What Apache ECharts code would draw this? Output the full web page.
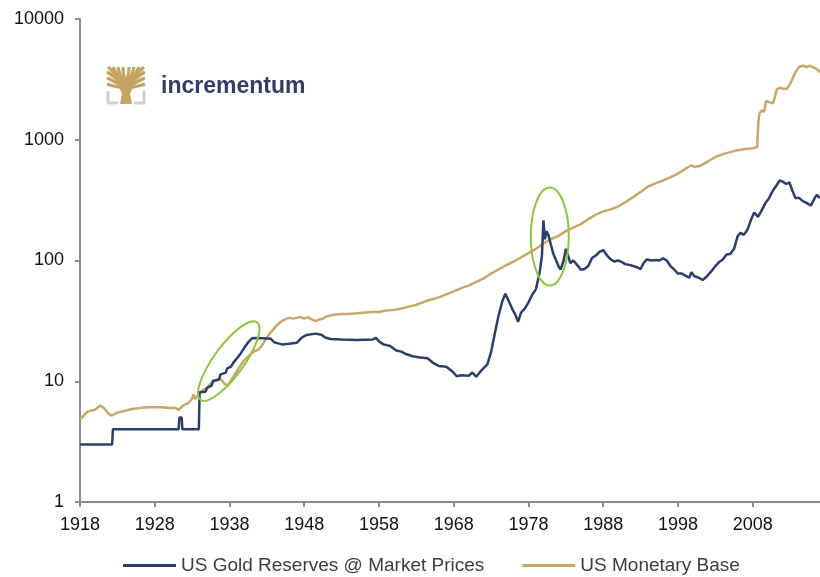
<!DOCTYPE html>
<html>
<head>
<meta charset="utf-8">
<title>US Gold Reserves vs Monetary Base</title>
<script src="https://cdn.jsdelivr.net/npm/echarts@6/dist/echarts.min.js"></script>
<style>
  html, body { margin: 0; padding: 0; background: #fff; }
  #chart { width: 820px; height: 577px; }
</style>
</head>
<body>
<div id="chart"></div>
<script>
// 年份刻度
const tickYears = [1918, 1928, 1938, 1948, 1958, 1968, 1978, 1988, 1998, 2008];

// US Gold Reserves @ Market Prices (bn USD)
const goldYears = [
  1918, 1922.3, 1922.4, 1931.2, 1931.3, 1931.6, 1931.7, 1933.9, 1934.0, 1934.8,
  1935.0, 1935.6, 1935.8, 1936.6, 1936.8, 1937.5, 1937.7, 1938.2, 1938.5, 1939.0,
  1939.5, 1940.0, 1940.5, 1941.0, 1941.5, 1942.5, 1943.5, 1944.0, 1945.0, 1946.0,
  1947.0, 1947.6, 1948.3, 1949.5, 1950.3, 1950.8, 1951.5, 1953.0, 1955.0, 1957.2,
  1957.6, 1958.0, 1958.6, 1959.5, 1960.3, 1961.0, 1961.5, 1962.5, 1963.5, 1964.5,
  1965.3, 1966.0, 1967.0, 1967.8, 1968.4, 1969.0, 1970.0, 1970.5, 1971.0, 1971.8,
  1972.5, 1973.0, 1973.5, 1974.0, 1974.5, 1974.9, 1975.3, 1975.8, 1976.3, 1976.6,
  1977.0, 1977.5, 1978.0, 1978.5, 1979.0, 1979.5, 1979.8, 1980.0, 1980.2, 1980.4,
  1980.7, 1981.0, 1981.3, 1981.7, 1982.0, 1982.3, 1982.7, 1983.0, 1983.3, 1983.6,
  1984.0, 1984.5, 1985.0, 1985.5, 1986.0, 1986.5, 1987.0, 1987.5, 1988.0, 1988.5,
  1989.0, 1989.5, 1990.0, 1990.5, 1991.0, 1991.5, 1992.0, 1992.5, 1993.0, 1993.4,
  1993.8, 1994.5, 1995.0, 1995.5, 1996.0, 1996.5, 1997.0, 1997.5, 1998.0, 1998.5,
  1999.0, 1999.5, 1999.8, 2000.2, 2000.8, 2001.3, 2001.8, 2002.5, 2003.0, 2003.5,
  2004.0, 2004.5, 2005.0, 2005.5, 2006.0, 2006.4, 2006.8, 2007.3, 2007.8, 2008.2,
  2008.7, 2009.2, 2009.7, 2010.2, 2010.7, 2011.2, 2011.6, 2012.0, 2012.5, 2012.9,
  2013.3, 2013.7, 2014.2, 2014.7, 2015.2, 2015.8, 2016.3, 2016.6, 2016.9, 2017
];
const goldValues = [
  3, 3, 4, 4, 5, 5, 4, 4, 8.1, 8.2,
  8.8, 9.2, 10.1, 10.3, 11.4, 11.8, 12.8, 13.2, 14.2, 15.5,
  17.0, 19.0, 21.0, 22.7, 22.8, 22.7, 22.5, 21.0, 20.2, 20.4,
  20.8, 22.8, 24.2, 24.8, 24.3, 23.0, 22.4, 22.2, 22.0, 22.2,
  22.9, 21.4, 20.2, 19.6, 18.0, 17.6, 16.9, 16.1, 15.7, 15.5,
  14.1, 13.4, 13.2, 12.1, 11.0, 11.2, 11.1, 11.8, 10.9, 12.5,
  13.8, 17.5, 25, 35, 46, 53, 47, 40, 35, 31,
  37, 40, 45, 52, 58, 80, 110, 215, 150, 175,
  160, 135, 115, 100, 90, 84, 100, 125, 110, 95,
  100, 92, 84, 85, 90, 105, 110, 118, 122, 110,
  102, 98, 100, 97, 93, 92, 90, 88, 85, 95,
  102, 100, 101, 100, 104, 100, 90, 84, 78, 78,
  75, 72, 80, 74, 72, 69, 73, 82, 90, 97,
  102, 112, 113, 125, 160, 170, 163, 180, 220, 250,
  230, 260, 300, 330, 380, 420, 460, 450, 430, 445,
  380, 330, 330, 310, 300, 285, 330, 350, 330, 340
];

// US Monetary Base (bn USD)
const baseYears = [
  1918, 1918.5, 1919, 1920, 1920.7, 1921.2, 1921.8, 1922.2, 1923, 1924,
  1925, 1926, 1927, 1928, 1929, 1930, 1930.8, 1931.2, 1931.8, 1932.5,
  1933.0, 1933.2, 1933.4, 1934.0, 1934.5, 1935.0, 1935.5, 1936.0, 1936.5, 1937.0,
  1937.4, 1937.8, 1938.3, 1938.8, 1939.3, 1939.8, 1940.3, 1940.8, 1941.4, 1941.8,
  1942.3, 1942.8, 1943.3, 1943.8, 1944.3, 1945, 1945.6, 1946, 1946.5, 1947,
  1947.5, 1948, 1948.5, 1949, 1949.5, 1950, 1950.5, 1951, 1952, 1953,
  1954, 1955, 1956, 1957, 1958, 1959, 1960, 1961, 1962, 1963,
  1964, 1965, 1966, 1967, 1968, 1969, 1970, 1971, 1972, 1973,
  1974, 1975, 1976, 1977, 1978, 1979, 1980, 1981, 1982, 1983,
  1984, 1985, 1986, 1987, 1988, 1989, 1990, 1991, 1992, 1993,
  1994, 1995, 1996, 1997, 1998, 1999, 1999.8, 2000.2, 2001, 2002,
  2003, 2004, 2005, 2006, 2007, 2008.0, 2008.6, 2008.75, 2008.9, 2009.2,
  2009.5, 2009.8, 2010.2, 2010.7, 2011.0, 2011.2, 2011.6, 2012.0, 2012.6, 2013.0,
  2013.4, 2013.8, 2014.2, 2014.7, 2015.2, 2015.6, 2016.0, 2016.4, 2016.7, 2017
];
const baseValues = [
  4.8, 5.2, 5.6, 5.8, 6.3, 6.0, 5.4, 5.2, 5.5, 5.7,
  5.9, 6.0, 6.1, 6.1, 6.1, 6.0, 6.0, 5.8, 6.3, 6.6,
  7.2, 7.8, 7.1, 8.0, 8.5, 8.8, 9.6, 10.0, 10.5, 10.2,
  9.4, 9.3, 10.4, 11.6, 13.0, 14.5, 15.6, 16.7, 17.8, 18.2,
  19.5, 22, 24.5, 26.6, 29, 31.5, 33, 33.5, 33, 33.5,
  34, 33, 34, 32.5, 31.5, 32.5, 33, 34.5, 35.5, 36,
  36, 36.5, 37, 37.5, 37.5, 38.5, 39, 40, 41.5, 43,
  45.5, 47.5, 49.5, 52.5, 55.5, 59, 62, 66.5, 71, 78,
  84.5, 91, 98, 106, 115, 125, 138, 150, 160, 175,
  187, 200, 220, 240, 255, 265, 280, 305, 335, 370,
  410, 435, 460, 490, 525, 575, 615, 595, 610, 660,
  720, 760, 790, 820, 840, 850, 870, 1400, 1650, 1750,
  1700, 2100, 2050, 2000, 2300, 2600, 2700, 2650, 2650, 2900,
  3300, 3700, 4000, 4100, 4000, 4100, 4000, 3900, 3800, 3600
];

// 标注椭圆 (年份, 数值)
const markYears = [1937.9, 1980.85];
const markValues = [14.7, 158];

const navy = "#2c3e6b";
const tan = "#c6a96a";
const green = "#8dc63f";
const logoGold = "#c4a464";
const fontFamily = "'Liberation Sans', Arial, sans-serif";

let myChart = echarts.init(document.getElementById("chart"));

function pairs(xs, ys) {
  return xs.map((x, i) => [x, ys[i]]);
}

// 公司 logo (树形图标 + 文字)
function logoElements() {
  // 左半边的树枝: 起点, 控制点, 终点; 右半边镜像
  let branches = [
    [[124, 88], [112, 86], [107, 84]],
    [[124, 87], [112, 80], [107, 78]],
    [[124, 86], [113, 75], [107, 72]],
    [[124, 85], [112, 70], [108, 67]],
    [[124, 84], [115, 72], [113, 67]],
    [[125, 84], [119, 74], [118, 67]],
    [[126, 84], [123, 74], [123, 67]],
  ];
  let els = [];
  branches.forEach((b) => {
    [1, -1].forEach((dir) => {
      let p = b.map((pt) => [dir === 1 ? pt[0] : 252 - pt[0], pt[1]]);
      els.push({
        type: "bezierCurve",
        shape: {
          x1: p[0][0], y1: p[0][1],
          cpx1: p[1][0], cpy1: p[1][1],
          x2: p[2][0], y2: p[2][1],
        },
        style: { stroke: logoGold, lineWidth: 3.2, fill: null },
      });
    });
  });
  // 树干
  els.push({
    type: "polygon",
    shape: {
      points: [[120, 104], [132, 104], [130, 94], [133, 87], [126, 82], [119, 87], [122, 94]],
    },
    style: { fill: logoGold },
  });
  // 底部灰色括号
  els.push({
    type: "polyline",
    shape: { points: [[108, 91], [108, 103], [118, 103]] },
    style: { stroke: "#cfcfcf", lineWidth: 3, fill: null },
  });
  els.push({
    type: "polyline",
    shape: { points: [[144, 91], [144, 103], [134, 103]] },
    style: { stroke: "#cfcfcf", lineWidth: 3, fill: null },
  });
  els.push({
    type: "text",
    x: 161,
    y: 87,
    style: {
      text: "incrementum",
      fill: "#2f3d68",
      fontSize: 23,
      fontWeight: "bold",
      fontFamily: fontFamily,
      verticalAlign: "middle",
    },
  });
  return els;
}

let option = {
  animation: false,
  backgroundColor: "#fff",
  grid: {
    left: 80,
    right: 0,
    top: 19,
    bottom: 75,
    containLabel: false,
  },
  legend: {
    left: 123,
    top: 556,
    padding: 0,
    icon: "rect",
    itemWidth: 53,
    itemHeight: 3,
    itemGap: 38,
    textStyle: {
      fontSize: 19,
      color: "#3d3d3d",
      fontFamily: fontFamily,
    },
    data: ["US Gold Reserves @ Market Prices", "US Monetary Base"],
  },
  xAxis: {
    type: "value",
    min: 1918,
    max: 2017,
    axisLine: {
      show: true,
      lineStyle: { color: "#8c8c8c", width: 2 },
    },
    axisTick: {
      show: true,
      length: 5,
      customValues: tickYears,
      lineStyle: { color: "#8c8c8c", width: 2 },
    },
    axisLabel: {
      customValues: tickYears,
      fontSize: 18,
      color: "#111",
      margin: 14,
      fontFamily: fontFamily,
      formatter: (v) => String(v),
    },
    splitLine: { show: false },
  },
  yAxis: {
    type: "log",
    logBase: 10,
    min: 1,
    max: 10000,
    axisLine: {
      show: true,
      lineStyle: { color: "#8c8c8c", width: 2 },
    },
    axisTick: {
      show: true,
      length: 5,
      lineStyle: { color: "#8c8c8c", width: 2 },
    },
    axisLabel: {
      fontSize: 18,
      color: "#111",
      margin: 16,
      fontFamily: fontFamily,
      formatter: (v) => String(Math.round(v)),
    },
    splitLine: { show: false },
  },
  graphic: { elements: logoElements() },
  series: [
    {
      name: "US Gold Reserves @ Market Prices",
      type: "line",
      data: pairs(goldYears, goldValues),
      showSymbol: false,
      z: 3,
      color: navy,
      lineStyle: { color: navy, width: 2.5 },
    },
    {
      name: "US Monetary Base",
      type: "line",
      data: pairs(baseYears, baseValues),
      showSymbol: false,
      z: 2,
      color: tan,
      lineStyle: { color: tan, width: 2.5 },
    },
  ],
};
myChart.setOption(option);

// 绿色椭圆标注，位置由坐标轴换算
let c1 = myChart.convertToPixel({ gridIndex: 0 }, [markYears[0], markValues[0]]);
let c2 = myChart.convertToPixel({ gridIndex: 0 }, [markYears[1], markValues[1]]);
let marks = [
  {
    type: "ellipse",
    x: c1[0],
    y: c1[1],
    rotation: (54 * Math.PI) / 180,
    shape: { cx: 0, cy: 0, rx: 48, ry: 15 },
    style: { stroke: green, lineWidth: 2, fill: null },
    z: 10,
  },
  {
    type: "ellipse",
    x: c2[0],
    y: c2[1],
    shape: { cx: 0, cy: 0, rx: 19, ry: 49 },
    style: { stroke: green, lineWidth: 2, fill: null },
    z: 10,
  },
];
myChart.setOption({ graphic: { elements: logoElements().concat(marks) } });
</script>
</body>
</html>
